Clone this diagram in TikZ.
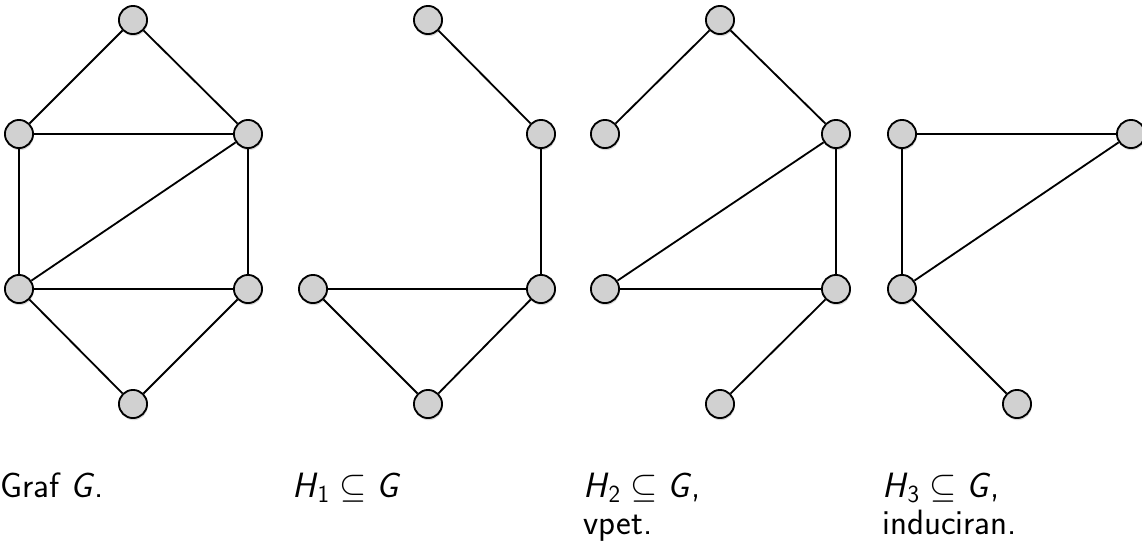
\documentclass[tikz,border=0pt]{standalone}
\usepackage{amsmath}
\usepackage{amssymb}
\usepackage{tikz}
\usetikzlibrary{shadows}
\renewcommand{\familydefault}{\sfdefault}
\newcommand{\sv}[1]{\textsf{\textit{#1}}}

\begin{document}
\begin{tikzpicture}[
    x=0.025cm, y=-0.025cm,
    vtx/.style={circle, draw, line width=1.3pt, fill=black!18, minimum size=20,
                inner sep=0pt, drop shadow={opacity=0.3, shadow xshift=0.5pt, shadow yshift=-1.5pt}},
    edge/.style={line width=1.3pt},
    lbl/.style={anchor=base west, inner sep=0pt, align=left,
                font=\fontsize{25}{26.2}\selectfont}
  ]
    \useasboundingbox (0,0) rectangle (1142,541);
    % graf G
    \node[vtx] (g1) at (133,20) {};
    \node[vtx] (g2) at (19,134) {};
    \node[vtx] (g3) at (248,134) {};
    \node[vtx] (g4) at (19,289) {};
    \node[vtx] (g5) at (248,289) {};
    \node[vtx] (g6) at (133,404) {};
    % H1
    \node[vtx] (a1) at (428,20) {};
    \node[vtx] (a3) at (541,134) {};
    \node[vtx] (a4) at (313,289) {};
    \node[vtx] (a5) at (541,289) {};
    \node[vtx] (a6) at (428,404) {};
    % H2
    \node[vtx] (b1) at (720,20) {};
    \node[vtx] (b2) at (605,134) {};
    \node[vtx] (b3) at (836,134) {};
    \node[vtx] (b4) at (605,289) {};
    \node[vtx] (b5) at (836,289) {};
    \node[vtx] (b6) at (720,404) {};
    % H3
    \node[vtx] (c2) at (902,134) {};
    \node[vtx] (c3) at (1131,134) {};
    \node[vtx] (c4) at (902,289) {};
    \node[vtx] (c6) at (1017,404) {};
    \draw[edge] (g1) -- (g2) (g1) -- (g3) (g2) -- (g3) (g2) -- (g4) (g3) -- (g4)
                (g3) -- (g5) (g4) -- (g5) (g4) -- (g6) (g5) -- (g6);
    \draw[edge] (a1) -- (a3) (a3) -- (a5) (a4) -- (a5) (a4) -- (a6) (a5) -- (a6);
    \draw[edge] (b1) -- (b2) (b1) -- (b3) (b3) -- (b4) (b3) -- (b5) (b4) -- (b5) (b5) -- (b6);
    \draw[edge] (c2) -- (c3) (c2) -- (c4) (c3) -- (c4) (c4) -- (c6);
    % oznake
    \node[lbl] (lg) at (0,497) {Graf $\sv{G}$.};
    \node[lbl] (l1) at (292,497) {$\sv{H}_{\textsf{1}} \subseteq \sv{G}$};
    \node[lbl] (l2) at (583,534) {$\sv{H}_{\textsf{2}} \subseteq \sv{G}$,\\vpet.};
    \node[lbl] (l3) at (882,534) {$\sv{H}_{\textsf{3}} \subseteq \sv{G}$,\\induciran.};
  \end{tikzpicture}
\end{document}
